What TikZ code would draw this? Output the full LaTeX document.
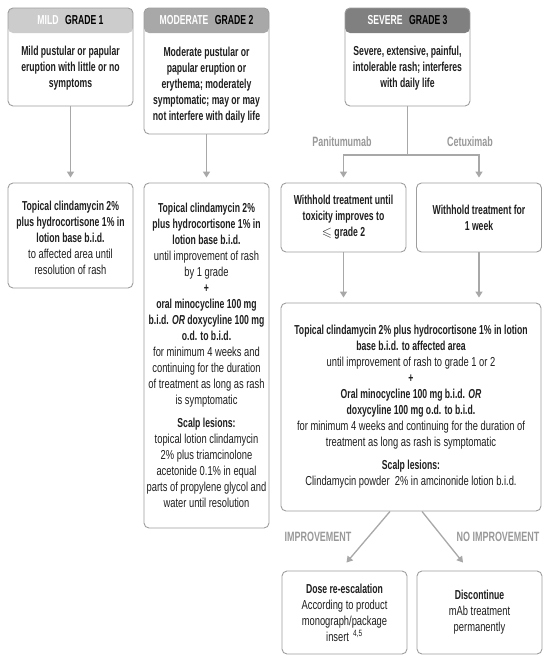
\documentclass[tikz,border=0pt]{standalone}
\usepackage{amssymb}
\usepackage{fontspec}
\setmainfont{Liberation Sans}[UprightFeatures={FakeStretch=0.72}, BoldFeatures={FakeStretch=0.665}, BoldItalicFeatures={FakeStretch=0.665}]
\usetikzlibrary{arrows.meta,positioning}

\definecolor{boxline}{gray}{0.62}
\definecolor{arrgray}{gray}{0.66}
\definecolor{hdmild}{gray}{0.80}
\definecolor{hdmod}{gray}{0.66}
\definecolor{hdsev}{gray}{0.50}
\definecolor{txt}{gray}{0.12}
\definecolor{lbl}{gray}{0.60}

\tikzset{
        box/.style={draw=boxline, line width=0.9pt, rounded corners=5pt, inner sep=0pt, minimum width=125pt},
        gradebox/.style={box, path picture={\fill[#1] (path picture bounding box.north west) rectangle ([yshift=-25pt]path picture bounding box.north east);}},
        head/.style={text=black, font=\bfseries\fontsize{13}{15}\selectfont},
        body/.style={align=center, text=txt, font=\fontsize{13}{16}\selectfont},
        arr/.style={draw=arrgray, line width=1.3pt, -{Triangle[length=6pt,width=7pt]}},
        lab/.style={text=lbl, font=\bfseries\fontsize{13.5}{15}\selectfont},
}

\begin{document}
\begin{tikzpicture}[x=1pt,y=-1pt]
        \path [use as bounding box, fill=white] (0,0) rectangle (550,662);

        % grade boxes
        \node [gradebox=hdmild, minimum height=98pt] (g1) at (70.5,57) {};
        \node [gradebox=hdmod, minimum height=126pt] (g2) at (206.5,71) {};
        \node [gradebox=hdsev, minimum height=98pt] (g3) at (407.5,57) {};

        \node [head] (g1h) at (70.5,20.5) {\textcolor{white}{MILD}\enspace GRADE 1};
        \node [head] (g2h) at (206.5,20.5) {\textcolor{white}{MODERATE}\enspace GRADE 2};
        \node [head] (g3h) at (407.5,20.5) {\textcolor{white}{SEVERE}\enspace GRADE 3};

        \node [body] (g1t) at (70.5,68.5) {\textbf{Mild pustular or papular}\\\textbf{eruption with little or no}\\\textbf{symptoms}};
        \node [body] (g2t) at (206.5,85) {\textbf{Moderate pustular or}\\\textbf{papular eruption or}\\\textbf{erythema; moderately}\\\textbf{symptomatic; may or may}\\\textbf{not interfere with daily life}};
        \node [body] (g3t) at (407.5,68.5) {\textbf{Severe, extensive, painful,}\\\textbf{intolerable rash; interferes}\\\textbf{with daily life}};

        % treatments for grade 1 and 2
        \node [box, minimum height=105pt] (t1) at (70.5,235.5) {};
        \node [body] (t1t) at (70.5,237.5) {\textbf{Topical clindamycin 2\%}\\\textbf{plus hydrocortisone 1\% in}\\\textbf{lotion base b.i.d.}\\
                to affected area until\\resolution of rash};

        \node [box, minimum height=345pt] (t2) at (206.5,355.5) {};
        \node [body] (t2t) at (206.5,355) {\textbf{Topical clindamycin 2\%}\\\textbf{plus hydrocortisone 1\% in}\\\textbf{lotion base b.i.d.}\\
                until improvement of rash\\by 1 grade\\
                \textbf{+}\\\textbf{oral minocycline 100 mg}\\\textbf{b.i.d. \textit{OR} doxycyline 100 mg}\\\textbf{o.d. to b.i.d.}\\
                for minimum 4 weeks and\\continuing for the duration\\of treatment as long as rash\\is symptomatic\\[7pt]
                \textbf{Scalp lesions:}\\
                topical lotion clindamycin\\2\% plus triamcinolone\\acetonide 0.1\% in equal\\parts of propylene glycol and\\water until resolution};

        % grade 3 branches
        \node [box, minimum height=69pt] (w1) at (343.5,217.5) {};
        \node [body] (w1t) at (343.5,217.5) {\textbf{Withhold treatment until}\\\textbf{toxicity improves to}\\$\leqslant$ \textbf{grade 2}};
        \node [box, minimum height=69pt] (w2) at (479,217.5) {};
        \node [body] (w2t) at (479,217.5) {\textbf{Withhold treatment for}\\\textbf{1 week}};

        \node [box, minimum width=260pt, minimum height=208pt] (b) at (411,407) {};
        \node [body] (bt) at (411,406.5) {\textbf{Topical clindamycin 2\% plus hydrocortisone 1\% in lotion}\\\textbf{base b.i.d. to affected area}\\
                until improvement of rash to grade 1 or 2\\
                \textbf{+}\\\textbf{Oral minocycline 100 mg b.i.d. \textit{OR}}\\\textbf{doxycyline 100 mg o.d. to b.i.d.}\\
                for minimum 4 weeks and continuing for the duration of\\treatment as long as rash is symptomatic\\[7pt]
                \textbf{Scalp lesions:}\\
                Clindamycin powder\ \ 2\% in amcinonide lotion b.i.d.};

        \node [box, minimum height=83pt] (d1) at (344.5,612.5) {};
        \node [body] (d1t) at (344.5,612.5) {\textbf{Dose re-escalation}\\
                According to product\\monograph/package\\insert \textsuperscript{\,4,5}};
        \node [box, minimum height=83pt] (d2) at (479.5,612.5) {};
        \node [body] (d2t) at (479.5,612.5) {\textbf{Discontinue}\\
                mAb treatment\\permanently};

        % connectors
        \draw [arr, shorten >=5pt] (g1) -- (t1);
        \draw [arr, shorten >=5pt] (g2) -- (t2);

        \coordinate (split) at (407.5,155);
        \draw [draw=arrgray, line width=1.3pt] (g3.south) -- (split);
        \draw [arr, shorten >=5pt] (split) -| (w1.north);
        \draw [arr, shorten >=5pt] (split) -| (w2.north);
        \node [lab] (pani) at (342,142) {Panitumumab};
        \node [lab] (cetu) at (470,142) {Cetuximab};

        \draw [arr, shorten >=5pt] (w1.south) -- (w1.south |- b.north);
        \draw [arr, shorten >=5pt] (w2.south) -- (w2.south |- b.north);

        \draw [arr] ([xshift=-21pt]b.south) -- ([xshift=2pt,yshift=8pt]d1.north);
        \draw [arr] ([xshift=11pt]b.south) -- ([xshift=-16.5pt,yshift=8pt]d2.north);
        \node [lab] (imp) at (318,537) {IMPROVEMENT};
        \node [lab] (noimp) at (498,537) {NO IMPROVEMENT};
\end{tikzpicture}
\end{document}
